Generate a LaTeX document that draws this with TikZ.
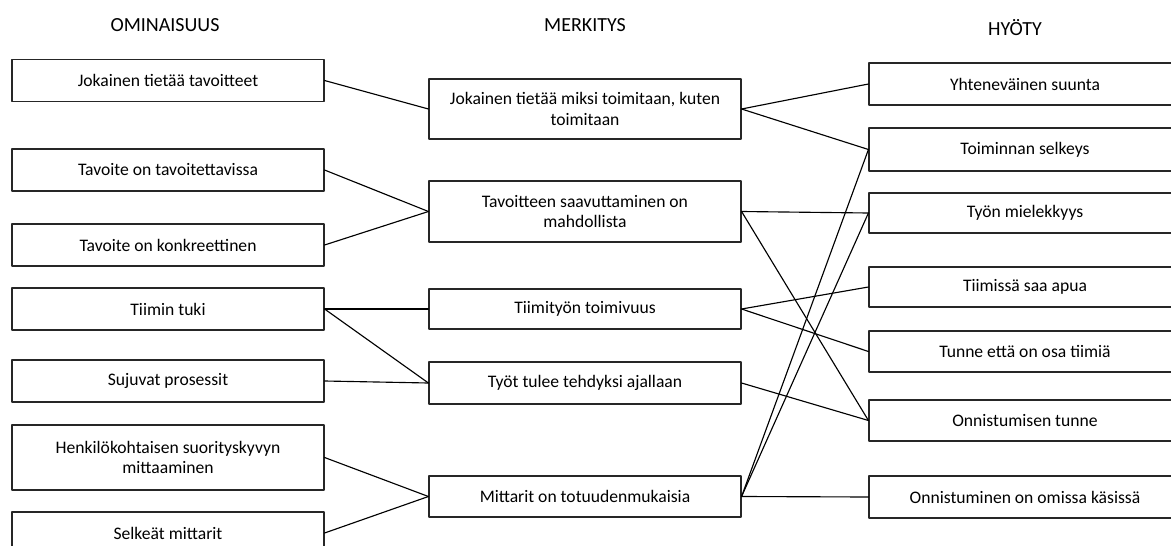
\documentclass[tikz,border=0pt]{standalone}
\usepackage{fontspec}
\setmainfont{Carlito}
\usepackage{xcolor}
\definecolor{boxline}{HTML}{262626}
\tikzset{
    lab/.style={
        font=\fontsize{13.2}{15.5}\selectfont
    },
    head/.style={
        font=\fontsize{15}{18}\selectfont
    },
    card/.style={
        draw=boxline, line width=0.85pt, lab, align=center,
        minimum width=234pt, minimum height=31.5pt, inner sep=0pt
    },
    link/.style={
        line width=0.85pt
    }
}

\begin{document}
\begin{tikzpicture}[x=0.75pt,y=-0.75pt, line cap=round, line join=round]

\clip (0,0) rectangle (1171,546);

\def\xL{168}
\def\xM{585}
\def\xR{1025}

% column headings
\node[head] (hL) at (165,25) {OMINAISUUS};
\node[head] (hM) at (\xM,25) {MERKITYS};
\node[head] (hR) at (1015,28) {HYÖTY};

% left column
\node[card] (L1) at (\xL,80.5) {Jokainen tietää tavoitteet};
\node[card] (L2) at (\xL,170) {Tavoite on tavoitettavissa};
\node[card] (L3) at (\xL,245) {Tavoite on konkreettinen};
\node[card] (L4) at (\xL,309) {Tiimin tuki};
\node[card] (L5) at (\xL,381) {Sujuvat prosessit};
\node[card, minimum height=48.75pt] (L6) at (\xL,457.5) {Henkilökohtaisen suorityskyvyn\\mittaaminen};
\node[card] (L7) at (\xL,533) {Selkeät mittarit};

% middle column
\node[card, minimum height=45pt] (M1) at (\xM,109) {Jokainen tietää miksi toimitaan, kuten\\toimitaan};
\node[card, minimum height=45.75pt] (M2) at (\xM,211.5) {Tavoitteen saavuttaminen on\\mahdollista};
\node[card, minimum height=30pt] (M3) at (\xM,309) {Tiimityön toimivuus};
\node[card] (M4) at (\xM,383) {Työt tulee tehdyksi ajallaan};
\node[card, minimum height=30.75pt] (M5) at (\xM,496.5) {Mittarit on totuudenmukaisia};

% right column
\node[card] (R1) at (\xR,84) {Yhteneväinen suunta};
\node[card, minimum height=32.25pt] (R2) at (\xR,149.5) {Toiminnan selkeys};
\node[card, minimum height=30pt] (R3) at (\xR,213) {Työn mielekkyys};
\node[card, minimum height=30pt] (R4) at (\xR,287) {Tiimissä saa apua};
\node[card, minimum height=30.75pt] (R5) at (\xR,351.5) {Tunne että on osa tiimiä};
\node[card, minimum height=30.75pt] (R6) at (\xR,420.5) {Onnistumisen tunne};
\node[card] (R7) at (\xR,497) {Onnistuminen on omissa käsissä};

% left to middle
\foreach \a/\b in {L1/M1, L2/M2, L3/M2, L4/M3, L4/M4, L5/M4, L6/M5, L7/M5}
  \draw[link] (\a.east) -- (\b.west);

% middle to right
\foreach \a/\b in {M1/R1, M1/R2, M2/R3, M2/R6, M3/R4, M3/R5, M4/R6, M5/R2, M5/R3, M5/R7}
  \draw[link] (\a.east) -- (\b.west);

\end{tikzpicture}
\end{document}
